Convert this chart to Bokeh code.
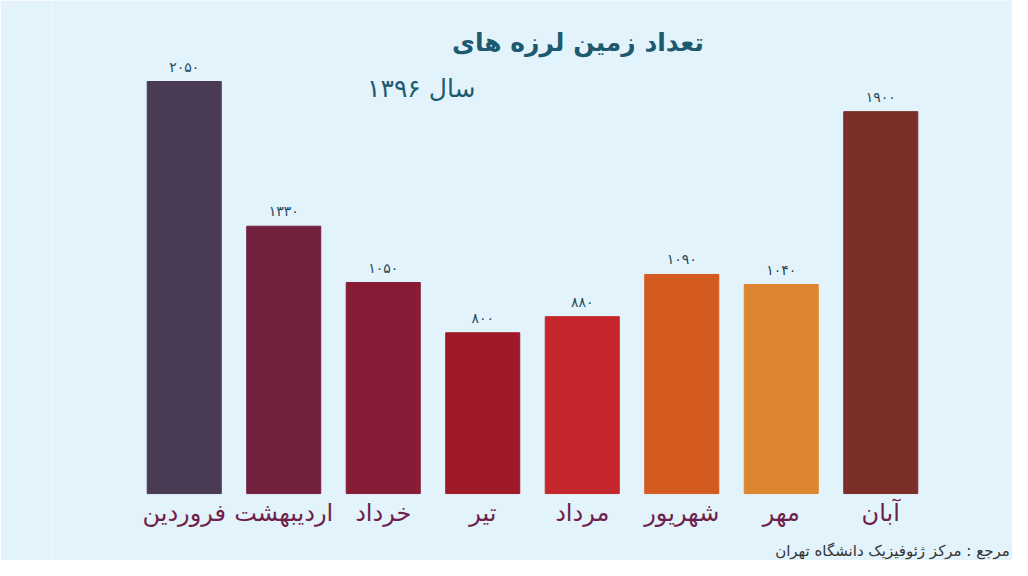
from bokeh.plotting import figure
from bokeh.models import FactorRange, Range1d, ColumnDataSource
from bokeh.core.properties import value
from bokeh.embed import file_html
from bokeh.resources import INLINE

months = ["فروردین", "اردیبهشت", "خرداد", "تیر", "مرداد", "شهریور", "مهر", "آبان"]
counts = [2050, 1330, 1050, 800, 880, 1090, 1040, 1900]
count_labels = ["۲۰۵۰", "۱۳۳۰", "۱۰۵۰", "۸۰۰", "۸۸۰", "۱۰۹۰", "۱۰۴۰", "۱۹۰۰"]
colors = ["#4a3b54", "#74203f", "#861c36", "#9e1a28", "#c4262c", "#d35b20", "#dc8630", "#7c2f29"]
title_text = "تعداد  زمین لرزه های"
subtitle_text = "سال ۱۳۹۶"
source_text = "مرجع : مرکز ژئوفیزیک دانشگاه تهران"

BG = "#e3f3fb"
FONT = value("DejaVu Sans")

src = ColumnDataSource(dict(month=months, count=counts, label=count_labels, color=colors,
                            zero=[0] * len(months)))

p = figure(width=1012, height=560, output_backend="svg", toolbar_location=None,
           x_range=FactorRange(factors=months, range_padding=0.824, range_padding_units="absolute"),
           y_range=Range1d(-333, 2453),
           min_border_left=52, min_border_right=0, min_border_top=0, min_border_bottom=0)
p.background_fill_color = BG
p.border_fill_color = BG
p.outline_line_color = None
p.grid.visible = False
p.axis.visible = False

p.vbar(x="month", top="count", width=0.744, color="color", source=src)

p.text(x="month", y="count", text="label", source=src, y_offset=-15,
       text_align="center", text_baseline="middle", text_font=FONT,
       text_font_size="14px", text_color="#23495a")

p.text(x="month", y="zero", text="month", source=src, y_offset=19,
       text_align="center", text_baseline="middle", text_font=FONT,
       text_font_size="24px", text_color="#6e1f4a")

p.text(x=[months[4]], y=[2244], text=[title_text], text_align="center", text_baseline="middle",
       text_font=FONT, text_font_size="25px", text_font_style="bold", text_color="#1c5a70")
p.text(x=[months[2]], y=[2015], text=[subtitle_text], text_align="center", text_baseline="middle",
       text_font=FONT, text_font_size="25px", text_color="#1c5a70", x_offset=38)
p.text(x=[months[7]], y=[-288], text=[source_text], text_align="right", text_baseline="middle",
       text_font=FONT, text_font_size="15px", text_color="#333333", x_offset=129)

open("out.html", "w").write(file_html(p, INLINE))
